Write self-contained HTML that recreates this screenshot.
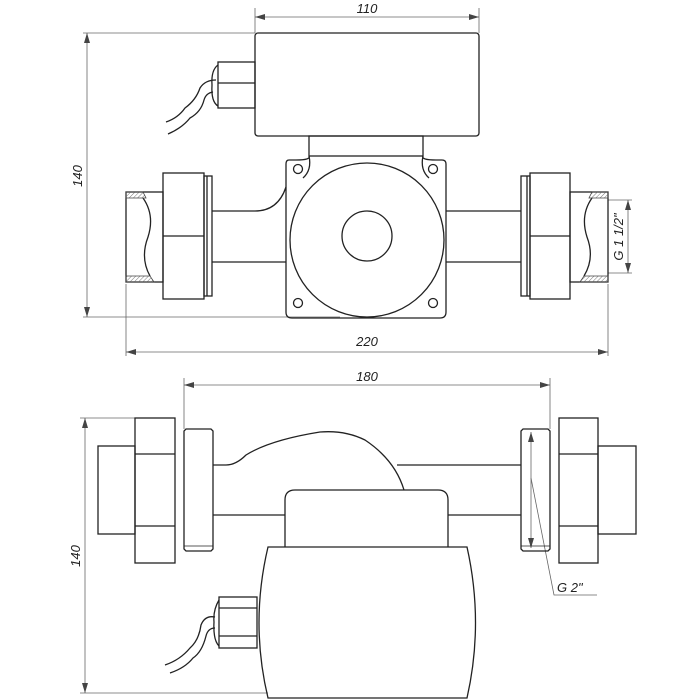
<!DOCTYPE html>
<html><head><style>
html,body{margin:0;padding:0;background:#fff}
svg{display:block}
text{font-family:"Liberation Sans",sans-serif;font-style:italic;font-size:13px;fill:#222}
</style></head><body>
<svg width="700" height="700" viewBox="0 0 700 700" xmlns="http://www.w3.org/2000/svg">
<defs>
<marker id="a" viewBox="0 0 10 6" refX="10" refY="3" markerWidth="10" markerHeight="6" orient="auto-start-reverse" markerUnits="userSpaceOnUse"><path d="M0,0 L10,3 L0,6 z" fill="#444"/></marker>
<pattern id="h" width="3" height="3" patternUnits="userSpaceOnUse" patternTransform="rotate(45)"><line x1="0" y1="0" x2="0" y2="3" stroke="#777" stroke-width="1"/></pattern>
</defs>
<g fill="none" stroke="#666" stroke-width="0.8">
<line x1="255" y1="8" x2="255" y2="33"/><line x1="479" y1="8" x2="479" y2="33"/>
<line x1="255" y1="17" x2="479" y2="17" marker-start="url(#a)" marker-end="url(#a)"/>
<line x1="83" y1="33" x2="255" y2="33"/><line x1="83" y1="317" x2="340" y2="317"/>
<line x1="87" y1="33" x2="87" y2="317" marker-start="url(#a)" marker-end="url(#a)"/>
<line x1="126" y1="284" x2="126" y2="356"/><line x1="608" y1="284" x2="608" y2="356"/>
<line x1="126" y1="352" x2="608" y2="352" marker-start="url(#a)" marker-end="url(#a)"/>
<line x1="608" y1="200" x2="632" y2="200"/><line x1="608" y1="273" x2="632" y2="273"/>
<line x1="628" y1="200" x2="628" y2="273" marker-start="url(#a)" marker-end="url(#a)"/>
<line x1="184" y1="378" x2="184" y2="429"/><line x1="550" y1="378" x2="550" y2="429"/>
<line x1="184" y1="385" x2="550" y2="385" marker-start="url(#a)" marker-end="url(#a)"/>
<line x1="80" y1="418" x2="135" y2="418"/><line x1="80" y1="693" x2="268" y2="693"/>
<line x1="85" y1="418" x2="85" y2="693" marker-start="url(#a)" marker-end="url(#a)"/>
<line x1="531" y1="432" x2="531" y2="548" marker-start="url(#a)" marker-end="url(#a)"/>
<polyline points="531,478 554,595 597,595"/>
</g>
<text x="367" y="13" text-anchor="middle">110</text>
<text x="367" y="346" text-anchor="middle">220</text>
<text x="367" y="381" text-anchor="middle">180</text>
<text transform="translate(82,176) rotate(-90)" text-anchor="middle">140</text>
<text transform="translate(80,556) rotate(-90)" text-anchor="middle">140</text>
<text transform="translate(623,237) rotate(-90)" text-anchor="middle">G 1 1/2"</text>
<text x="557" y="592">G 2"</text>

<g fill="none" stroke="#222" stroke-width="1.3">
<rect x="255" y="33" width="224" height="103" rx="3"/>
<rect x="218" y="62" width="37" height="46"/><line x1="218" y1="83" x2="255" y2="83"/>
<path d="M218,65 Q211,70 212,85 Q211,102 218,106"/>
<path d="M216,80 Q205,80 200,88 Q196,100 185,108 Q178,118 166,122"/>
<path d="M213,92 Q206,93 204,100 Q201,112 190,118 Q182,128 168,134"/>
<rect x="309" y="136" width="114" height="20"/>
<path d="M309,156 Q311,160 296,160 L289,160 Q286,160 286,164 L286,312 Q286,318 292,318 L440,318 Q446,318 446,312 L446,164 Q446,160 442,160 L436,160 Q421,160 423,156"/>
<path d="M309,156 Q312,170 303,178" /><path d="M423,156 Q420,170 429,178"/>
<circle cx="367" cy="240" r="77"/>
<circle cx="367" cy="236" r="25"/>
<circle cx="298" cy="169" r="4.5"/><circle cx="433" cy="169" r="4.5"/>
<circle cx="298" cy="303" r="4.5"/><circle cx="433" cy="303" r="4.5"/>
<path d="M212,211 L255,211 Q278,211 286,187"/>
<line x1="212" y1="262" x2="286" y2="262"/>
<line x1="446" y1="211" x2="521" y2="211"/><line x1="446" y1="262" x2="521" y2="262"/>
<rect x="163" y="173" width="41" height="126"/><line x1="163" y1="236" x2="204" y2="236"/>
<rect x="204" y="176" width="8" height="120"/><line x1="207" y1="176" x2="207" y2="296"/>
<rect x="126" y="192" width="37" height="90"/>
<path d="M143,198 Q155,215 148,237 Q140,258 150,276"/>
<rect x="530" y="173" width="40" height="126"/><line x1="530" y1="236" x2="570" y2="236"/>
<rect x="521" y="176" width="9" height="120"/><line x1="527" y1="176" x2="527" y2="296"/>
<rect x="570" y="192" width="38" height="90"/>
<path d="M592,198 Q580,215 587,237 Q595,258 584,276"/>
</g>
<g stroke="#444" stroke-width="0.8" fill="url(#h)">
<path d="M126,192 L143,192 L146,198 L126,198 z"/><path d="M126,276 L150,276 L154,282 L126,282 z"/>
<path d="M608,192 L592,192 L589,198 L608,198 z"/><path d="M608,276 L584,276 L580,282 L608,282 z"/>
</g>

<g fill="none" stroke="#222" stroke-width="1.3">
<rect x="135" y="418" width="40" height="145"/><line x1="135" y1="454" x2="175" y2="454"/><line x1="135" y1="526" x2="175" y2="526"/>
<rect x="98" y="446" width="37" height="88"/>
<path d="M186,429 L211,429 L213,431 L213,549 L211,551 L186,551 L184,549 L184,431 z"/><line x1="184" y1="546" x2="213" y2="546" stroke-width="0.7"/>
<rect x="559" y="418" width="39" height="145"/><line x1="559" y1="454" x2="598" y2="454"/><line x1="559" y1="526" x2="598" y2="526"/>
<rect x="598" y="446" width="38" height="88"/>
<path d="M523,429 L548,429 L550,431 L550,549 L548,551 L523,551 L521,549 L521,431 z"/><line x1="521" y1="546" x2="550" y2="546" stroke-width="0.7"/>
<path d="M213,465 L226,465 Q236,465 246,455 Q270,440 320,432 Q345,430 365,440 Q395,460 404,490"/>
<line x1="397" y1="465" x2="521" y2="465"/>
<line x1="213" y1="515" x2="285" y2="515"/><line x1="448" y1="515" x2="521" y2="515"/>
<path d="M285,547 L285,500 Q285,490 295,490 L438,490 Q448,490 448,500 L448,547"/>
<path d="M268,547 L467,547 Q484,623 467,698 L268,698 Q250,623 268,547 z"/>
<rect x="219" y="597" width="38" height="51"/><line x1="219" y1="608" x2="257" y2="608"/><line x1="219" y1="636" x2="257" y2="636"/>
<path d="M219,600 Q213,610 214,622 Q213,640 219,646"/>
<path d="M215,617 Q205,615 201,625 Q199,640 190,648 Q180,660 165,665"/>
<path d="M215,628 Q208,628 206,636 Q202,652 193,658 Q185,668 170,673"/>
</g>
</svg>
</body></html>
